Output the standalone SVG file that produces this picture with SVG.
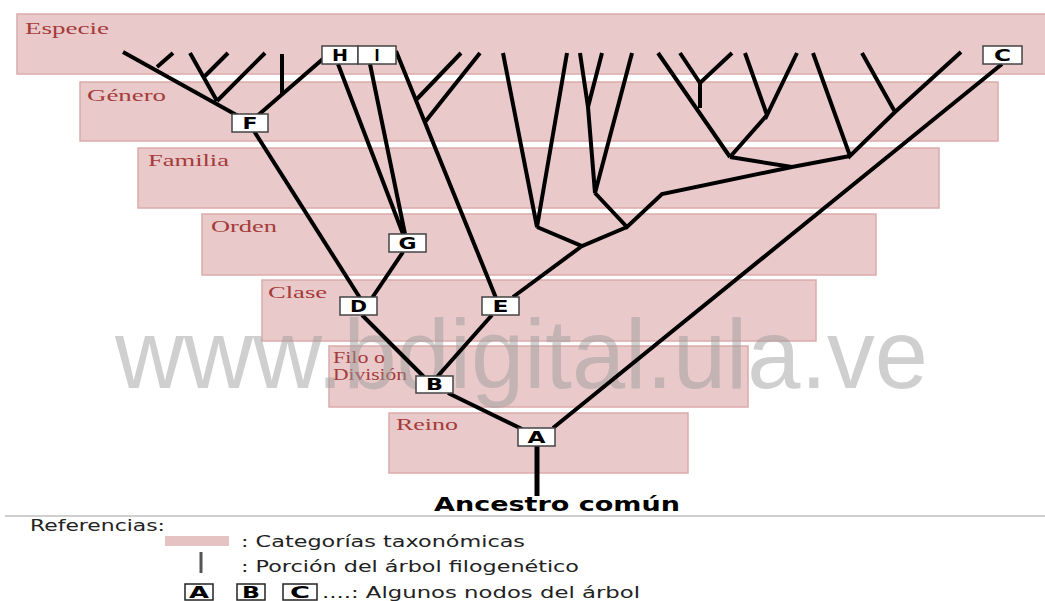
<svg xmlns="http://www.w3.org/2000/svg" width="1045" height="601" viewBox="0 0 1045 601">
<style>
.cat{fill:#e9c9c9;stroke:#dcaaaa;stroke-width:1.5}
.lab{font-family:"Liberation Serif",serif;font-size:16px;fill:#a53b3b}
.tree{fill:none;stroke:#000;stroke-width:4;stroke-linejoin:miter;stroke-linecap:butt}
.box{fill:#fff;stroke:#444;stroke-width:1.5}
.nt{font-family:"DejaVu Sans",sans-serif;font-weight:bold;font-size:15px;fill:#000;text-anchor:middle}
.leg{font-family:"DejaVu Sans",sans-serif;font-size:15px;fill:#222}
.lbox{fill:#fff;stroke:#222;stroke-width:1.5}
</style>
<rect width="1045" height="601" fill="#fff"/>
<g id="categorias">
<g id="cat-especie"><rect class="cat" x="17" y="14" width="1030" height="60"/><text class="lab" x="25" y="34" textLength="84" lengthAdjust="spacingAndGlyphs">Especie</text></g>
<g id="cat-genero"><rect class="cat" x="80" y="82" width="918" height="59"/><text class="lab" x="87" y="101" textLength="79" lengthAdjust="spacingAndGlyphs">Género</text></g>
<g id="cat-familia"><rect class="cat" x="138" y="148" width="801" height="60"/><text class="lab" x="148" y="166" textLength="81" lengthAdjust="spacingAndGlyphs">Familia</text></g>
<g id="cat-orden"><rect class="cat" x="202" y="214" width="674" height="61"/><text class="lab" x="211" y="232" textLength="66" lengthAdjust="spacingAndGlyphs">Orden</text></g>
<g id="cat-clase"><rect class="cat" x="262" y="280" width="554" height="61"/><text class="lab" x="268" y="298" textLength="59" lengthAdjust="spacingAndGlyphs">Clase</text></g>
<g id="cat-filo"><rect class="cat" x="329" y="346" width="419" height="61"/><text class="lab" x="333" y="363" font-size="14" textLength="52" lengthAdjust="spacingAndGlyphs">Filo o</text><text class="lab" x="333" y="380" font-size="14" textLength="74" lengthAdjust="spacingAndGlyphs">División</text></g>
<g id="cat-reino"><rect class="cat" x="389" y="413" width="299" height="60"/><text class="lab" x="396" y="430" textLength="62" lengthAdjust="spacingAndGlyphs">Reino</text></g>
</g>
<text id="watermark" x="115" y="388" font-family="Liberation Sans, Arial, sans-serif" font-size="98" fill="#9a9a9a" fill-opacity="0.48" textLength="813" lengthAdjust="spacingAndGlyphs">www.bdigital.ula.ve</text>
<g id="conectores" class="tree">
<path d="M123,52 L240,117 M157,67 L173,53 M190,53 L217,101 M203,78 L228,53 M217,101 L265,53 M282,54 L282,94 M256,117 L324,58"/>
<path d="M254,131 L360,298"/>
<path d="M338,64 L403,234 M370,64 L405,234 M403,252 L372,298"/>
<path d="M396,51 L496,298 M416,100 L461,53 M425,122 L480,53"/>
<path d="M362,315 L424,377 M492,315 L437,377 M448,393 L522,429 M1002,64 L553,428"/>
<path d="M537,446 L537,496" stroke-width="5"/>
<path d="M513,297 L582,246 M503,53 L537,227 L567,53 M537,227 L582,246 L627,227"/>
<path d="M580,53 L588,107 L602,53 M588,107 L595,193 L632,53 M595,193 L627,227 L662,194 L792,167"/>
<path d="M730,157 L792,167 L850,156 M658,53 L730,157 M680,53 L700,83 L732,53 M700,83 L700,108 M745,53 L767,115 L797,53 M767,115 L730,157"/>
<path d="M813,53 L850,156 L895,112 L961,52 M862,53 L895,112"/>
</g>
<g id="node-A"><rect class="box" x="518" y="428" width="37" height="18"/><text class="nt" x="536.5" y="443" textLength="18" lengthAdjust="spacingAndGlyphs">A</text></g>
<g id="node-B"><rect class="box" x="416" y="376" width="37" height="17"/><text class="nt" x="434.5" y="390" textLength="17" lengthAdjust="spacingAndGlyphs">B</text></g>
<g id="node-C"><rect class="box" x="983" y="46" width="39" height="18"/><text class="nt" x="1002.5" y="61" textLength="17" lengthAdjust="spacingAndGlyphs">C</text></g>
<g id="node-D"><rect class="box" x="340" y="297" width="37" height="18"/><text class="nt" x="358.5" y="312" textLength="17" lengthAdjust="spacingAndGlyphs">D</text></g>
<g id="node-E"><rect class="box" x="482" y="297" width="37" height="18"/><text class="nt" x="500.5" y="312" textLength="16" lengthAdjust="spacingAndGlyphs">E</text></g>
<g id="node-F"><rect class="box" x="232" y="114" width="36" height="18"/><text class="nt" x="250" y="129" textLength="15" lengthAdjust="spacingAndGlyphs">F</text></g>
<g id="node-G"><rect class="box" x="389" y="234" width="37" height="18"/><text class="nt" x="407.5" y="249" textLength="18" lengthAdjust="spacingAndGlyphs">G</text></g>
<g id="node-H"><rect class="box" x="322" y="46" width="36" height="18"/><text class="nt" x="340" y="61" textLength="16" lengthAdjust="spacingAndGlyphs">H</text></g>
<g id="node-I"><rect class="box" x="358" y="46" width="38" height="18"/><text class="nt" x="377" y="61" textLength="5" lengthAdjust="spacingAndGlyphs">I</text></g>
<text id="ancestro" x="434" y="511" font-family="DejaVu Sans, sans-serif" font-weight="bold" font-size="19" fill="#000" textLength="246" lengthAdjust="spacingAndGlyphs">Ancestro común</text>
<line x1="5" y1="516" x2="1045" y2="516" stroke="#cfcfcf" stroke-width="2"/>
<g id="leyenda">
<text class="leg" x="30" y="531" font-size="14" textLength="135" lengthAdjust="spacingAndGlyphs">Referencias:</text>
<rect x="165" y="536" width="64" height="10" fill="#e6c3c3"/>
<text class="leg" x="241" y="547" textLength="284" lengthAdjust="spacingAndGlyphs">: Categorías taxonómicas</text>
<line x1="201" y1="552" x2="201" y2="573" stroke="#555" stroke-width="3"/>
<text class="leg" x="241" y="572" textLength="338" lengthAdjust="spacingAndGlyphs">: Porción del árbol filogenético</text>
<rect class="lbox" x="185" y="584" width="28" height="16"/><text class="nt" x="199" y="598" textLength="20" lengthAdjust="spacingAndGlyphs">A</text>
<rect class="lbox" x="237" y="584" width="28" height="16"/><text class="nt" x="251" y="598" textLength="18" lengthAdjust="spacingAndGlyphs">B</text>
<rect class="lbox" x="283" y="584" width="34" height="16"/><text class="nt" x="300" y="598" textLength="20" lengthAdjust="spacingAndGlyphs">C</text>
<text class="leg" x="322" y="598" textLength="318" lengthAdjust="spacingAndGlyphs">....: Algunos nodos del árbol</text>
</g>
</svg>
